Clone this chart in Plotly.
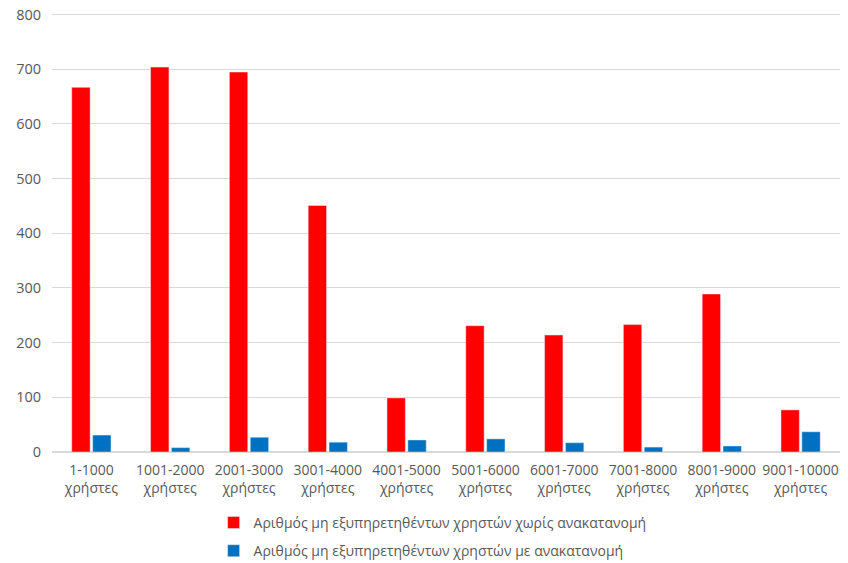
import plotly.graph_objects as go

categories = ["1-1000<br>χρήστες", "1001-2000<br>χρήστες", "2001-3000<br>χρήστες",
              "3001-4000<br>χρήστες", "4001-5000<br>χρήστες", "5001-6000<br>χρήστες",
              "6001-7000<br>χρήστες", "7001-8000<br>χρήστες", "8001-9000<br>χρήστες",
              "9001-10000<br>χρήστες"]
without_realloc = [667, 704, 695, 451, 99, 231, 214, 233, 289, 77]
with_realloc = [31, 8, 27, 18, 22, 24, 17, 9, 11, 37]
name_without = "Αριθμός μη εξυπηρετηθέντων χρηστών χωρίς ανακατανομή"
name_with = "Αριθμός μη εξυπηρετηθέντων χρηστών με ανακατανομή"

font_family = "Open Sans, Liberation Sans, sans-serif"

fig = go.Figure()
fig.add_trace(go.Bar(x=categories, y=without_realloc, name=name_without,
                     marker_color="#ff0000", legendgroup="a"))
fig.add_trace(go.Bar(x=categories, y=with_realloc, name=name_with,
                     marker_color="#0070c0", legendgroup="b"))

fig.update_layout(
    width=848, height=563,
    margin=dict(l=52, r=8, t=13, b=111, autoexpand=False),
    paper_bgcolor="white", plot_bgcolor="white",
    barmode="group", bargap=0.47, bargroupgap=0.12,
    font=dict(family=font_family, color="#595959", size=13),
    legend=dict(orientation="v", x=0.483, xanchor="center", y=-0.125, yanchor="top",
                font=dict(size=14, color="#595959"), itemwidth=30,
                tracegroupgap=7),
    showlegend=True,
)
fig.update_yaxes(range=[0, 803], tickvals=[0, 100, 200, 300, 400, 500, 600, 700, 800],
                 showgrid=True, gridcolor="#d9d9d9",
                 gridwidth=1, zeroline=True, zerolinecolor="#d9d9d9",
                 tickfont=dict(size=14.5, color="#595959"), ticks="",
                 ticklabelstandoff=10, automargin=False, ticklabeloverflow="allow")
fig.update_xaxes(showline=False, ticks="", tickfont=dict(size=14, color="#595959"),
                 tickangle=0, automargin=False, ticklabelstandoff=8,
                 ticklabeloverflow="allow")

fig.write_html("out.html", config={"displayModeBar": False},
               post_script="document.body.style.margin='0';")
